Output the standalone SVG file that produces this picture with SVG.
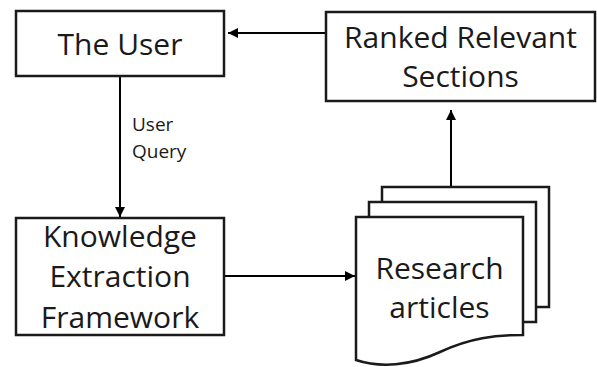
<svg xmlns="http://www.w3.org/2000/svg" width="597" height="367" viewBox="0 0 597 367">
  <style>
    .box { fill: #ffffff; stroke: #1a1a1a; stroke-width: 2.5; }
    .lbl { font-family: "Open Sans", "Noto Sans", sans-serif; font-size: 30px; fill: #1a1a1a; text-anchor: middle; }
    .small { font-family: "Open Sans", "Noto Sans", sans-serif; font-size: 19px; fill: #1a1a1a; }
    .edge { fill: none; stroke: #000000; stroke-width: 2; }
  </style>
  <defs>
    <marker id="arrow" viewBox="0 0 10 10" refX="10" refY="5" markerWidth="10" markerHeight="10" markerUnits="userSpaceOnUse" orient="auto">
      <path d="M0,0 L10,5 L0,10 Z" fill="#000000"/>
    </marker>
  </defs>

  <rect width="597" height="367" fill="#ffffff"/>

  <!-- connectors -->
  <g id="edges">
    <line class="edge" x1="326" y1="33" x2="228" y2="33" marker-end="url(#arrow)"/>
    <line class="edge" x1="120" y1="76" x2="120" y2="217" marker-end="url(#arrow)"/>
    <line class="edge" x1="224" y1="276" x2="355" y2="276" marker-end="url(#arrow)"/>
    <line class="edge" x1="451" y1="187" x2="451" y2="110" marker-end="url(#arrow)"/>
    <text class="small" x="132" y="131">User</text>
    <text class="small" x="132" y="158">Query</text>
  </g>

  <g id="user">
    <rect class="box" x="16" y="11" width="208" height="65"/>
    <text class="lbl" x="120" y="55">The User</text>
  </g>

  <g id="ranked">
    <rect class="box" x="326" y="12" width="269" height="89"/>
    <text class="lbl" x="460.5" y="48">Ranked Relevant</text>
    <text class="lbl" x="460.5" y="87">Sections</text>
  </g>

  <g id="framework">
    <rect class="box" x="16" y="218" width="208" height="117"/>
    <text class="lbl" x="120" y="247">Knowledge</text>
    <text class="lbl" x="120" y="287">Extraction</text>
    <text class="lbl" x="120" y="328">Framework</text>
  </g>

  <g id="articles">
    <rect class="box" x="382" y="187" width="167" height="120"/>
    <rect class="box" x="369" y="202" width="167" height="120"/>
    <path class="box" d="M356,217 H523 V335 C495,335 470,338 440,352 C410,366 380,368 356,360 Z"/>
    <text class="lbl" x="439.5" y="279">Research</text>
    <text class="lbl" x="439.5" y="318">articles</text>
  </g>
</svg>
